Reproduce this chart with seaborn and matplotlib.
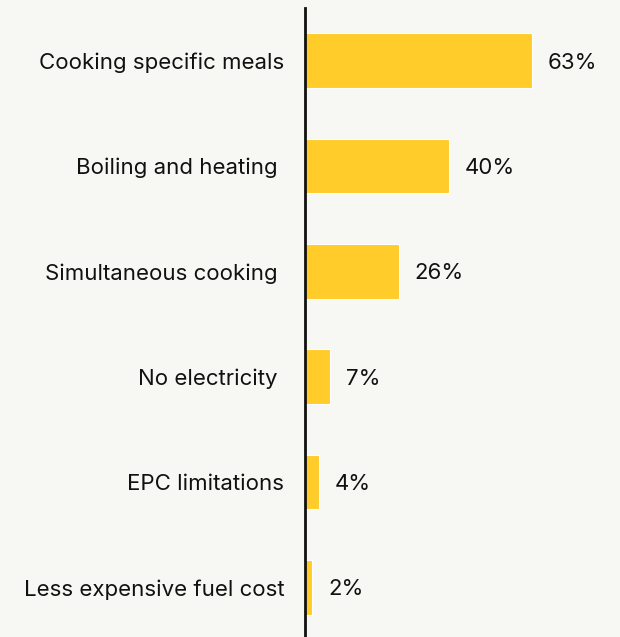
import matplotlib
matplotlib.use("Agg")
import matplotlib.pyplot as plt
import seaborn as sns
import pandas as pd

categories = [
    "Cooking specific meals",
    "Boiling and heating ",
    "Simultaneous cooking ",
    "No electricity ",
    "EPC limitations",
    "Less expensive fuel cost",
]
values = [63, 40, 26, 7, 4, 2]

df = pd.DataFrame({"reason": categories, "share": values})

sns.set_theme(style="white")
plt.rcParams["font.family"] = ["Inter", "DejaVu Sans"]

bg = "#f7f7f3"
fig = plt.figure(figsize=(6.2, 6.37), dpi=100, facecolor=bg)
ax = fig.add_axes([305 / 620, -3 / 637, 315 / 620, 632 / 637])
ax.set_facecolor(bg)

sns.barplot(data=df, x="share", y="reason", color="#ffcc29", saturation=1,
            width=0.52, edgecolor="white", linewidth=0.8, ax=ax)

ax.set_xlim(0, 87.5)
ax.set_ylim(5.5, -0.5)
ax.set_xlabel("")
ax.set_ylabel("")
ax.set_xticks([])
for s in ["top", "right", "bottom"]:
    ax.spines[s].set_visible(False)
ax.spines["left"].set_color("#111111")
ax.spines["left"].set_linewidth(2)

ax.tick_params(axis="y", length=0, pad=15, labelsize=16, labelcolor="#111111")

for i, v in enumerate(values):
    ax.text(v + 4.4, i + 0.02, f"{v}%", va="center", ha="left", fontsize=16, color="#111111")

fig.savefig("out.png", dpi=100, facecolor=bg)
